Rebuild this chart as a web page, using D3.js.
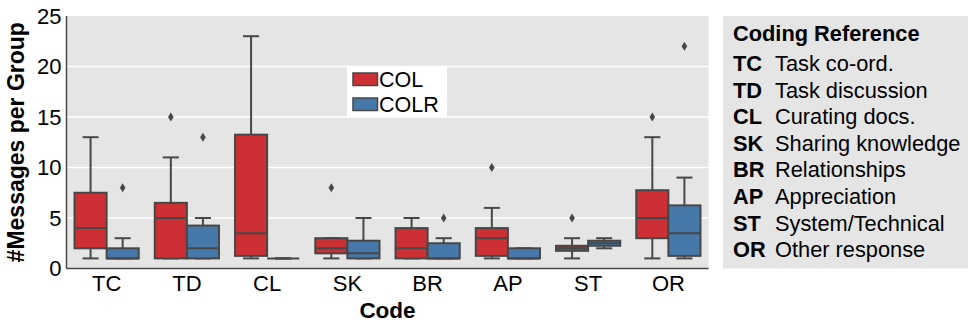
<!DOCTYPE html>
<html>
<head>
<meta charset="utf-8">
<script src="https://cdn.jsdelivr.net/npm/d3@7"></script>
<style>
  html, body { margin: 0; padding: 0; background: #ffffff; }
  svg { display: block; font-family: "Liberation Sans", Arial, Helvetica, sans-serif; }
</style>
</head>
<body>
<svg id="chart" width="968" height="323"></svg>
<script>
// Message codes along the x axis
const codes = ["TC", "TD", "CL", "SK", "BR", "AP", "ST", "OR"];
const groups = ["COL", "COLR"];

// Box summaries per code: [lower whisker, Q1, median, Q3, upper whisker]
const colStats = [
  [1, 2, 4, 7.5, 13],
  [1, 1, 5, 6.5, 11],
  [1, 1.25, 3.5, 13.25, 23],
  [1, 1.5, 2, 3, 3],
  [1, 1, 2, 4, 5],
  [1, 1.25, 3, 4, 6],
  [1, 1.75, 2, 2.25, 3],
  [1, 3, 5, 7.75, 13]
];
const colrStats = [
  [1, 1, 1, 2, 3],
  [1, 1, 2, 4.25, 5],
  [1, 1, 1, 1, 1],
  [1, 1, 1.5, 2.75, 5],
  [1, 1, 1, 2.5, 3],
  [1, 1, 1, 2, 2],
  [2, 2.25, 2.5, 2.75, 3],
  [1, 1.25, 3.5, 6.25, 9]
];
// Outlying values per code
const colOutliers = [[], [15], [], [8], [], [10], [5], [15]];
const colrOutliers = [[8], [13], [], [], [5], [], [], [22]];

const yTicks = [0, 5, 10, 15, 20, 25];

// Coding reference entries
const refCodes = ["TC", "TD", "CL", "SK", "BR", "AP", "ST", "OR"];
const refNames = ["Task co-ord.", "Task discussion", "Curating docs.", "Sharing knowledge",
                  "Relationships", "Appreciation", "System/Technical", "Other response"];

const colors = { COL: "#cd3034", COLR: "#4679aa" };
const lineColor = "#474747";
const panelBg = "#e5e5e5";

const svg = d3.select("#chart");
const plot = { left: 66.5, right: 708.5, top: 16, bottom: 268.5 };

const x = d3.scaleBand().domain(codes).range([plot.left, plot.right]).paddingInner(0).paddingOuter(0);
const hue = d3.scaleBand().domain(groups).range([0, x.bandwidth() * 0.8]);
const y = d3.scaleLinear().domain([0, 25]).range([plot.bottom, plot.top]);

// Plot background
svg.append("rect")
  .attr("x", plot.left).attr("y", plot.top)
  .attr("width", plot.right - plot.left).attr("height", plot.bottom - plot.top)
  .attr("fill", panelBg);

// Horizontal gridlines
svg.append("g").selectAll("line").data(yTicks.filter(d => d > 0 && d < 25)).join("line")
  .attr("x1", plot.left).attr("x2", plot.right)
  .attr("y1", d => y(d)).attr("y2", d => y(d))
  .attr("stroke", "#ffffff").attr("stroke-width", 1.5);

// Y axis labels
const yAxis = svg.append("g")
  .attr("transform", `translate(${plot.left},0)`)
  .call(d3.axisLeft(y).tickValues(yTicks).tickSize(0).tickPadding(5));
yAxis.select(".domain").remove();
yAxis.selectAll("text").attr("font-size", 22).attr("fill", "#000")
  .attr("font-family", "'Liberation Sans', Arial, sans-serif");

// X axis labels
const xAxis = svg.append("g")
  .attr("transform", `translate(0,${plot.bottom})`)
  .call(d3.axisBottom(x).tickSize(0).tickPadding(7));
xAxis.select(".domain").remove();
xAxis.selectAll("text").attr("font-size", 22).attr("fill", "#000")
  .attr("font-family", "'Liberation Sans', Arial, sans-serif");

// Axis spines
svg.append("line")
  .attr("x1", plot.left).attr("x2", plot.left)
  .attr("y1", plot.top).attr("y2", plot.bottom)
  .attr("stroke", "#4a4a4a").attr("stroke-width", 1.5);
svg.append("line")
  .attr("x1", plot.left).attr("x2", plot.right)
  .attr("y1", plot.bottom).attr("y2", plot.bottom)
  .attr("stroke", "#4a4a4a").attr("stroke-width", 1.5);

// Boxes
const boxes = [];
codes.forEach((c, i) => {
  boxes.push({ code: c, group: "COL", s: colStats[i], out: colOutliers[i] });
  boxes.push({ code: c, group: "COLR", s: colrStats[i], out: colrOutliers[i] });
});

const gBoxes = svg.append("g");
boxes.forEach(b => {
  const x0 = x(b.code) + x.bandwidth() * 0.1 + hue(b.group);
  const w = hue.bandwidth();
  const cx = x0 + w / 2;
  const [lo, q1, med, q3, hi] = b.s;
  const g = gBoxes.append("g");
  // whiskers
  g.append("line").attr("x1", cx).attr("x2", cx).attr("y1", y(q3)).attr("y2", y(hi))
    .attr("stroke", lineColor).attr("stroke-width", 2);
  g.append("line").attr("x1", cx).attr("x2", cx).attr("y1", y(q1)).attr("y2", y(lo))
    .attr("stroke", lineColor).attr("stroke-width", 2);
  // caps
  [lo, hi].forEach(v => {
    g.append("line").attr("x1", cx - w / 4).attr("x2", cx + w / 4)
      .attr("y1", y(v)).attr("y2", y(v))
      .attr("stroke", lineColor).attr("stroke-width", 2);
  });
  // box
  g.append("rect").attr("x", x0).attr("y", y(q3))
    .attr("width", w).attr("height", Math.max(0, y(q1) - y(q3)))
    .attr("fill", colors[b.group]).attr("stroke", lineColor).attr("stroke-width", 2);
  // median
  g.append("line").attr("x1", x0).attr("x2", x0 + w)
    .attr("y1", y(med)).attr("y2", y(med))
    .attr("stroke", lineColor).attr("stroke-width", 2);
  // outliers as thin diamonds
  g.selectAll("path.out").data(b.out).join("path")
    .attr("class", "out")
    .attr("d", v => `M${cx},${y(v) - 4.5} L${cx + 2.8},${y(v)} L${cx},${y(v) + 4.5} L${cx - 2.8},${y(v)} Z`)
    .attr("fill", lineColor);
});

// Legend
const lg = svg.append("g");
lg.append("rect").attr("x", 347).attr("y", 66.5).attr("width", 100).attr("height", 51)
  .attr("fill", "#ffffff");
groups.forEach((grp, i) => {
  lg.append("rect").attr("x", 353).attr("y", 73 + i * 25).attr("width", 24.5).attr("height", 12.5)
    .attr("fill", colors[grp]).attr("stroke", lineColor).attr("stroke-width", 1.5);
  lg.append("text").attr("x", 379).attr("y", 87 + i * 25)
    .attr("font-size", 21.5).attr("fill", "#000").text(grp);
});

// Axis titles
svg.append("text")
  .attr("transform", `translate(24,${(plot.top + plot.bottom) / 2}) rotate(-90)`)
  .attr("text-anchor", "middle").attr("font-size", 23).attr("font-weight", "bold")
  .attr("fill", "#000").text("#Messages per Group");
svg.append("text")
  .attr("x", (plot.left + plot.right) / 2).attr("y", 318)
  .attr("text-anchor", "middle").attr("font-size", 22.5).attr("font-weight", "bold")
  .attr("fill", "#000").text("Code");

// Coding reference panel
const ref = svg.append("g");
ref.append("rect").attr("x", 723).attr("y", 16).attr("width", 245).attr("height", 252.5)
  .attr("fill", panelBg);
ref.append("text").attr("x", 733).attr("y", 41)
  .attr("font-size", 21.8).attr("font-weight", "bold").attr("fill", "#000")
  .text("Coding Reference");
refCodes.forEach((c, i) => {
  const by = 71 + i * 26.6;
  ref.append("text").attr("x", 733).attr("y", by)
    .attr("font-size", 21.8).attr("font-weight", "bold").attr("fill", "#000").text(c);
  ref.append("text").attr("x", 775).attr("y", by)
    .attr("font-size", 21.8).attr("fill", "#000").text(refNames[i]);
});
</script>
</body>
</html>
